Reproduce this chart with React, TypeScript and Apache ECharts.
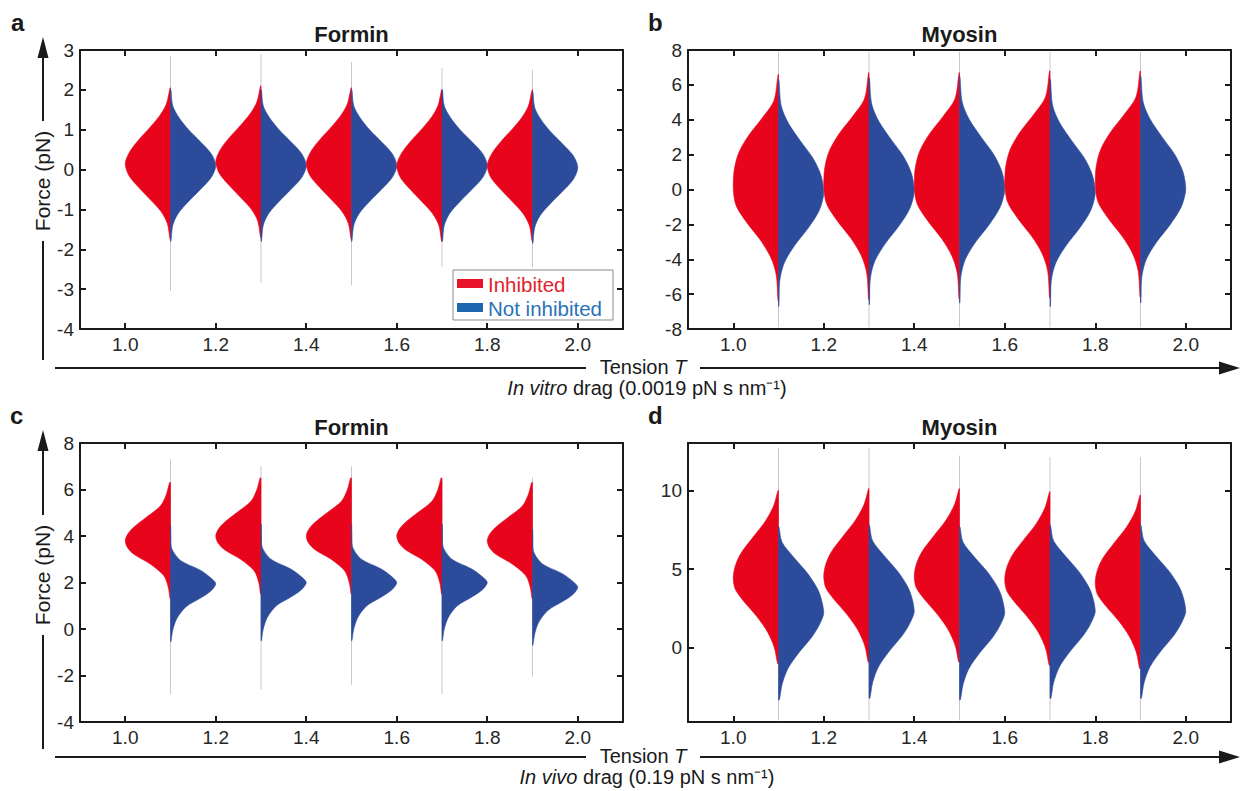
import React, { useEffect, useRef } from 'react';
import * as echarts from 'echarts';

// ---------- shared ----------
const TENSION = [1.1, 1.3, 1.5, 1.7, 1.9];
const X_TICKS = [1.0, 1.2, 1.4, 1.6, 1.8, 2.0];
const PANEL_TITLES = ['Formin', 'Myosin', 'Formin', 'Myosin'];
const PANEL_LETTERS = ['a', 'b', 'c', 'd'];
const LEGEND_NAMES = ['Inhibited', 'Not inhibited'];

// ---------- panel a : Formin, in vitro ----------
const A_Y_TICKS = [-4, -3, -2, -1, 0, 1, 2, 3];
const A_OFFSETS = [1.9, 1.5, 1.2, 0.9, 0.6, 0.3, 0, -0.3, -0.6, -0.9, -1.2, -1.5, -1.9];
const A_RED_WIDTH = [0.001, 0.009, 0.024, 0.046, 0.07, 0.09, 0.1, 0.092, 0.07, 0.045, 0.021, 0.007, 0.001];
const A_BLUE_WIDTH = [0.001, 0.005, 0.019, 0.04, 0.066, 0.09, 0.1, 0.09, 0.066, 0.04, 0.017, 0.005, 0.001];
const A_RED_MODE = [0.15, 0.2, 0.15, 0.1, 0.1];
const A_BLUE_MODE = [0.1, 0.1, 0.1, 0.1, 0.05];
const A_TAIL_TOP = [2.85, 2.9, 2.7, 2.55, 2.5];
const A_TAIL_BOTTOM = [-3.05, -2.85, -2.9, -2.45, -2.45];

// ---------- panel b : Myosin, in vitro ----------
const B_Y_TICKS = [-8, -6, -4, -2, 0, 2, 4, 6, 8];
const B_OFFSETS = [6.5, 5, 4, 3, 2, 1, 0, -1, -2, -3, -4, -5, -6.5];
const B_RED_WIDTH = [0.001, 0.01, 0.036, 0.066, 0.088, 0.098, 0.1, 0.094, 0.07, 0.04, 0.017, 0.005, 0.001];
const B_BLUE_WIDTH = [0.001, 0.006, 0.022, 0.048, 0.076, 0.094, 0.1, 0.09, 0.066, 0.036, 0.013, 0.003, 0.001];
const B_RED_MODE = [0.1, 0.2, 0.2, 0.3, 0.3];
const B_BLUE_MODE = [-0.2, -0.1, 0, -0.2, 0];
const B_TAIL_TOP = [7.9, 7.9, 7.9, 7.9, 7.9];
const B_TAIL_BOTTOM = [-7.9, -7.9, -7.9, -7.9, -7.9];

// ---------- panel c : Formin, in vivo ----------
const C_Y_TICKS = [-4, -2, 0, 2, 4, 6, 8];
const C_OFFSETS = [2.5, 2.0, 1.5, 1.0, 0.6, 0.3, 0, -0.3, -0.6, -1.0, -1.5, -2.0, -2.5];
const C_RED_WIDTH = [0.002, 0.009, 0.022, 0.054, 0.08, 0.094, 0.1, 0.095, 0.08, 0.045, 0.015, 0.005, 0.001];
const C_BLUE_WIDTH = [0.0005, 0.001, 0.003, 0.022, 0.064, 0.086, 0.1, 0.09, 0.068, 0.034, 0.014, 0.005, 0.001];
const C_RED_MODE = [3.8, 4.0, 4.0, 4.0, 3.8];
const C_BLUE_MODE = [1.95, 2.0, 2.0, 2.0, 1.8];
const C_TAIL_TOP = [7.3, 7.0, 7.0, 6.4, 6.5];
const C_TAIL_BOTTOM = [-2.8, -2.6, -2.4, -2.8, -2.05];

// ---------- panel d : Myosin, in vivo ----------
const D_Y_TICKS = [0, 5, 10];
const D_OFFSETS = [5.5, 4.5, 3.5, 2.5, 1.5, 0.75, 0, -0.75, -1.5, -2.5, -3.5, -4.5, -5.5];
const D_RED_WIDTH = [0.001, 0.011, 0.03, 0.057, 0.083, 0.095, 0.1, 0.096, 0.078, 0.048, 0.024, 0.009, 0.002];
const D_BLUE_WIDTH = [0.001, 0.008, 0.035, 0.065, 0.087, 0.096, 0.1, 0.09, 0.074, 0.045, 0.021, 0.008, 0.002];
const D_RED_MODE = [4.5, 4.6, 4.6, 4.4, 4.2];
const D_BLUE_MODE = [2.2, 2.3, 2.2, 2.3, 2.3];
const D_TAIL_TOP = [12.7, 12.7, 12.2, 12.1, 12.1];
const D_TAIL_BOTTOM = [-4.6, -4.6, -4.6, -4.6, -4.6];

const RED = '#e8051c';
const BLUE = '#2c4b9b';
const INK = '#1a1a1a';
const FONT = '"Liberation Sans", Arial, Helvetica, sans-serif';

type Panel = {
  offsets: number[];
  red: number[];
  blue: number[];
  redMode: number[];
  blueMode: number[];
  tailTop: number[];
  tailBottom: number[];
  yTicks: number[];
  yMin: number;
  yMax: number;
  grid: { left: number; top: number; width: number; height: number };
};

const PANELS: Panel[] = [
  { offsets: A_OFFSETS, red: A_RED_WIDTH, blue: A_BLUE_WIDTH, redMode: A_RED_MODE, blueMode: A_BLUE_MODE, tailTop: A_TAIL_TOP, tailBottom: A_TAIL_BOTTOM, yTicks: A_Y_TICKS, yMin: -4, yMax: 3, grid: { left: 80, top: 50, width: 543, height: 279 } },
  { offsets: B_OFFSETS, red: B_RED_WIDTH, blue: B_BLUE_WIDTH, redMode: B_RED_MODE, blueMode: B_BLUE_MODE, tailTop: B_TAIL_TOP, tailBottom: B_TAIL_BOTTOM, yTicks: B_Y_TICKS, yMin: -8, yMax: 8, grid: { left: 688, top: 50, width: 543, height: 279 } },
  { offsets: C_OFFSETS, red: C_RED_WIDTH, blue: C_BLUE_WIDTH, redMode: C_RED_MODE, blueMode: C_BLUE_MODE, tailTop: C_TAIL_TOP, tailBottom: C_TAIL_BOTTOM, yTicks: C_Y_TICKS, yMin: -4, yMax: 8, grid: { left: 80, top: 443, width: 543, height: 279 } },
  { offsets: D_OFFSETS, red: D_RED_WIDTH, blue: D_BLUE_WIDTH, redMode: D_RED_MODE, blueMode: D_BLUE_MODE, tailTop: D_TAIL_TOP, tailBottom: D_TAIL_BOTTOM, yTicks: D_Y_TICKS, yMin: -4.7, yMax: 13, grid: { left: 688, top: 443, width: 543, height: 279 } },
];

function bbox(pts: number[][]) {
  let x0 = Infinity, y0 = Infinity, x1 = -Infinity, y1 = -Infinity;
  pts.forEach(([x, y]) => { x0 = Math.min(x0, x); y0 = Math.min(y0, y); x1 = Math.max(x1, x); y1 = Math.max(y1, y); });
  return [[x0, y0], [x1, y1]];
}

const makeRenderItem = (p: Panel) => (params: any, api: any) => {
  const cx = api.value(0);
  const rm = api.value(1);
  const bm = api.value(2);
  const tt = api.value(3);
  const tb = api.value(4);
  const n = p.offsets.length;
  const redPts: number[][] = [];
  const bluePts: number[][] = [];
  for (let k = 0; k < n; k++) redPts.push(api.coord([cx - p.red[k], rm + p.offsets[k]]));
  for (let k = n - 1; k >= 0; k--) redPts.push(api.coord([cx, rm + p.offsets[k]]));
  for (let k = 0; k < n; k++) bluePts.push(api.coord([cx + p.blue[k], bm + p.offsets[k]]));
  for (let k = n - 1; k >= 0; k--) bluePts.push(api.coord([cx, bm + p.offsets[k]]));
  const top = api.coord([cx, tt]);
  const bot = api.coord([cx, tb]);
  return {
    type: 'group',
    children: [
      { type: 'line', shape: { x1: top[0], y1: top[1], x2: bot[0], y2: bot[1] }, style: { stroke: 'rgba(150,120,150,0.45)', lineWidth: 1 } },
      { type: 'polygon', shape: { points: redPts, smooth: 0.3, smoothConstraint: bbox(redPts) }, style: { fill: RED, stroke: RED, lineWidth: 0.6 } },
      { type: 'polygon', shape: { points: bluePts, smooth: 0.3, smoothConstraint: bbox(bluePts) }, style: { fill: BLUE, stroke: BLUE, lineWidth: 0.6 } },
    ],
  };
};

function txt(x: number, y: number, text: string, font: string, extra: any = {}, rich?: any) {
  return {
    type: 'text',
    x,
    y,
    silent: true,
    ...extra,
    style: {
      text,
      font,
      fill: extra.fill || INK,
      align: extra.align || 'center',
      textAlign: extra.align || 'center',
      verticalAlign: extra.verticalAlign || 'middle',
      textVerticalAlign: extra.verticalAlign || 'middle',
      rich,
    },
  };
}

function buildOption() {
  const grid: any[] = [];
  const xAxis: any[] = [];
  const yAxis: any[] = [];
  const series: any[] = [];
  const axisLineStyle = { color: INK, width: 2 };
  PANELS.forEach((p, i) => {
    grid.push({ ...p.grid, outerBoundsMode: 'none', containLabel: false });
    ['bottom', 'top'].forEach((pos, j) => {
      xAxis.push({
        type: 'value', gridIndex: i, position: pos, min: 0.9, max: 2.1,
        axisLine: { show: true, onZero: false, lineStyle: axisLineStyle },
        axisTick: { show: true, inside: true, length: 6, lineStyle: { color: INK, width: 2 }, customValues: X_TICKS },
        axisLabel: { show: j === 0, customValues: X_TICKS, formatter: (v: number) => v.toFixed(1), fontSize: 19, fontFamily: FONT, color: '#262626', margin: 6 },
        splitLine: { show: false },
      });
    });
    ['left', 'right'].forEach((pos, j) => {
      yAxis.push({
        type: 'value', gridIndex: i, position: pos, min: p.yMin, max: p.yMax,
        axisLine: { show: true, onZero: false, lineStyle: axisLineStyle },
        axisTick: { show: true, inside: true, length: 6, lineStyle: { color: INK, width: 2 }, customValues: p.yTicks },
        axisLabel: { show: j === 0, customValues: p.yTicks, formatter: (v: number) => String(v), fontSize: 19, fontFamily: FONT, color: '#262626', margin: 6 },
        splitLine: { show: false },
      });
    });
    series.push({
      type: 'custom',
      xAxisIndex: 2 * i,
      yAxisIndex: 2 * i,
      clip: true,
      renderItem: makeRenderItem(p),
      encode: { x: 0, y: [1, 2, 3, 4] },
      data: TENSION.map((t, k) => [t, p.redMode[k], p.blueMode[k], p.tailTop[k], p.tailBottom[k]]),
    });
  });

  const g: any[] = [];
  // panel letters and titles
  const letterPos = [[11, 22], [648, 22], [10, 415], [648, 415]];
  PANELS.forEach((p, i) => {
    g.push(txt(letterPos[i][0], letterPos[i][1], PANEL_LETTERS[i], `bold 24px ${FONT}`, { align: 'left' }));
    g.push(txt(p.grid.left + p.grid.width / 2, p.grid.top - 16, PANEL_TITLES[i], `bold 22px ${FONT}`));
  });
  // y arrows with "Force (pN)"
  [[50, 360, 181], [443, 749, 575]].forEach(([top, bottom, mid]) => {
    g.push({ type: 'polygon', silent: true, shape: { points: [[43, top - 13], [37.5, top + 8], [48.5, top + 8]] }, style: { fill: INK } });
    g.push({ type: 'line', silent: true, shape: { x1: 43, y1: top + 6, x2: 43, y2: mid - 60 }, style: { stroke: INK, lineWidth: 2 } });
    g.push({ type: 'line', silent: true, shape: { x1: 43, y1: mid + 60, x2: 43, y2: bottom }, style: { stroke: INK, lineWidth: 2 } });
    g.push(txt(42, mid, 'Force (pN)', `21px ${FONT}`, { rotation: Math.PI / 2 }));
  });
  // x arrows with "Tension T"
  const subtitles = ['{i|In vitro} drag (0.0019 pN s nm⁻¹)', '{i|In vivo} drag (0.19 pN s nm⁻¹)'];
  [[368, 388], [757, 777]].forEach(([y, sy], k) => {
    g.push({ type: 'line', silent: true, shape: { x1: 55, y1: y, x2: 586, y2: y }, style: { stroke: INK, lineWidth: 2 } });
    g.push({ type: 'line', silent: true, shape: { x1: 700, y1: y, x2: 1224, y2: y }, style: { stroke: INK, lineWidth: 2 } });
    g.push({ type: 'polygon', silent: true, shape: { points: [[1240, y], [1219, y - 6.5], [1219, y + 6.5]] }, style: { fill: INK } });
    g.push(txt(643, y - 1, 'Tension {i|T}', `20px ${FONT}`, {}, { i: { fontStyle: 'italic', fontSize: 20, fontFamily: FONT } }));
    g.push(txt(647, sy, subtitles[k], `20px ${FONT}`, {}, { i: { fontStyle: 'italic', fontSize: 20, fontFamily: FONT } }));
  });
  // legend in panel a
  g.push({ type: 'rect', silent: true, shape: { x: 453, y: 270, width: 160, height: 50 }, style: { fill: '#fff', stroke: '#8a8a8a', lineWidth: 1 } });
  g.push({ type: 'rect', silent: true, shape: { x: 457, y: 279, width: 26, height: 9 }, style: { fill: '#e8132a' } });
  g.push({ type: 'rect', silent: true, shape: { x: 457, y: 303, width: 26, height: 9 }, style: { fill: '#1f66b0' } });
  g.push(txt(488, 284, LEGEND_NAMES[0], `20.5px ${FONT}`, { align: 'left', fill: '#e2242c' }));
  g.push(txt(488, 308, LEGEND_NAMES[1], `20.5px ${FONT}`, { align: 'left', fill: '#2a72b8' }));

  return {
    animation: false,
    backgroundColor: '#ffffff',
    textStyle: { fontFamily: FONT },
    grid,
    xAxis,
    yAxis,
    series,
    graphic: { elements: g },
  };
}

export default function App() {
  const ref = useRef<HTMLDivElement>(null);
  useEffect(() => {
    if (!ref.current) return;
    const chart = echarts.init(ref.current, undefined, { renderer: 'svg' });
    chart.setOption(buildOption() as any);
    return () => chart.dispose();
  }, []);
  return <div ref={ref} style={{ position: 'absolute', left: 0, top: 0, width: 1240, height: 791 }} />;
}
